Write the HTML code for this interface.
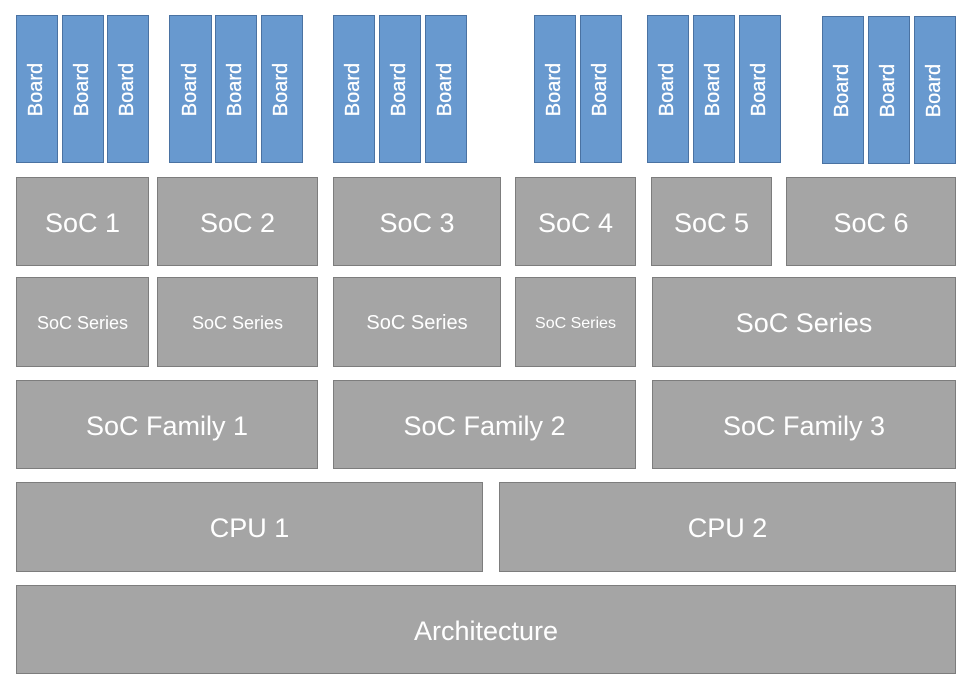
<!DOCTYPE html>
<html><head><meta charset="utf-8"><style>
body{margin:0;width:970px;height:692px;background:#fff;position:relative;overflow:hidden;font-family:"Liberation Sans",sans-serif}
.g,.b{position:absolute;box-sizing:border-box;display:flex;align-items:center;justify-content:center;color:#fff;white-space:nowrap}
.g{background:#a5a5a5;border:1px solid #7d7d7d;padding-top:3px}
.b{background:#6899cf;border:1px solid #4a72a2;top:15px;height:148px;width:42px}
.b span{transform:rotate(-90deg);font-size:20px;display:block;-webkit-text-stroke:0.3px #fff}
</style></head><body>
<div class="b" style="left:16px"><span>Board</span></div>
<div class="b" style="left:62px"><span>Board</span></div>
<div class="b" style="left:107px"><span>Board</span></div>
<div class="b" style="left:169px;width:43px"><span>Board</span></div>
<div class="b" style="left:215px"><span>Board</span></div>
<div class="b" style="left:261px"><span>Board</span></div>
<div class="b" style="left:333px"><span>Board</span></div>
<div class="b" style="left:379px"><span>Board</span></div>
<div class="b" style="left:425px"><span>Board</span></div>
<div class="b" style="left:534px"><span>Board</span></div>
<div class="b" style="left:580px"><span>Board</span></div>
<div class="b" style="left:647px"><span>Board</span></div>
<div class="b" style="left:693px"><span>Board</span></div>
<div class="b" style="left:739px"><span>Board</span></div>
<div class="b" style="left:822px;top:16px;height:148px"><span>Board</span></div>
<div class="b" style="left:868px;top:16px;height:148px"><span>Board</span></div>
<div class="b" style="left:914px;top:16px;height:148px"><span>Board</span></div>

<div class="g" style="left:16px;top:177px;width:133px;height:89px;font-size:27px">SoC 1</div>
<div class="g" style="left:157px;top:177px;width:161px;height:89px;font-size:27px">SoC 2</div>
<div class="g" style="left:333px;top:177px;width:168px;height:89px;font-size:27px">SoC 3</div>
<div class="g" style="left:515px;top:177px;width:121px;height:89px;font-size:27px">SoC 4</div>
<div class="g" style="left:651px;top:177px;width:121px;height:89px;font-size:27px">SoC 5</div>
<div class="g" style="left:786px;top:177px;width:170px;height:89px;font-size:27px">SoC 6</div>

<div class="g" style="left:16px;top:277px;width:133px;height:90px;font-size:18px">SoC Series</div>
<div class="g" style="left:157px;top:277px;width:161px;height:90px;font-size:18px">SoC Series</div>
<div class="g" style="left:333px;top:277px;width:168px;height:90px;font-size:20px">SoC Series</div>
<div class="g" style="left:515px;top:277px;width:121px;height:90px;font-size:16px">SoC Series</div>
<div class="g" style="left:652px;top:277px;width:304px;height:90px;font-size:27px">SoC Series</div>

<div class="g" style="left:16px;top:380px;width:302px;height:89px;font-size:27px">SoC Family 1</div>
<div class="g" style="left:333px;top:380px;width:303px;height:89px;font-size:27px">SoC Family 2</div>
<div class="g" style="left:652px;top:380px;width:304px;height:89px;font-size:27px">SoC Family 3</div>

<div class="g" style="left:16px;top:482px;width:467px;height:90px;font-size:27px">CPU 1</div>
<div class="g" style="left:499px;top:482px;width:457px;height:90px;font-size:27px">CPU 2</div>

<div class="g" style="left:16px;top:585px;width:940px;height:89px;font-size:27px">Architecture</div>
</body></html>
